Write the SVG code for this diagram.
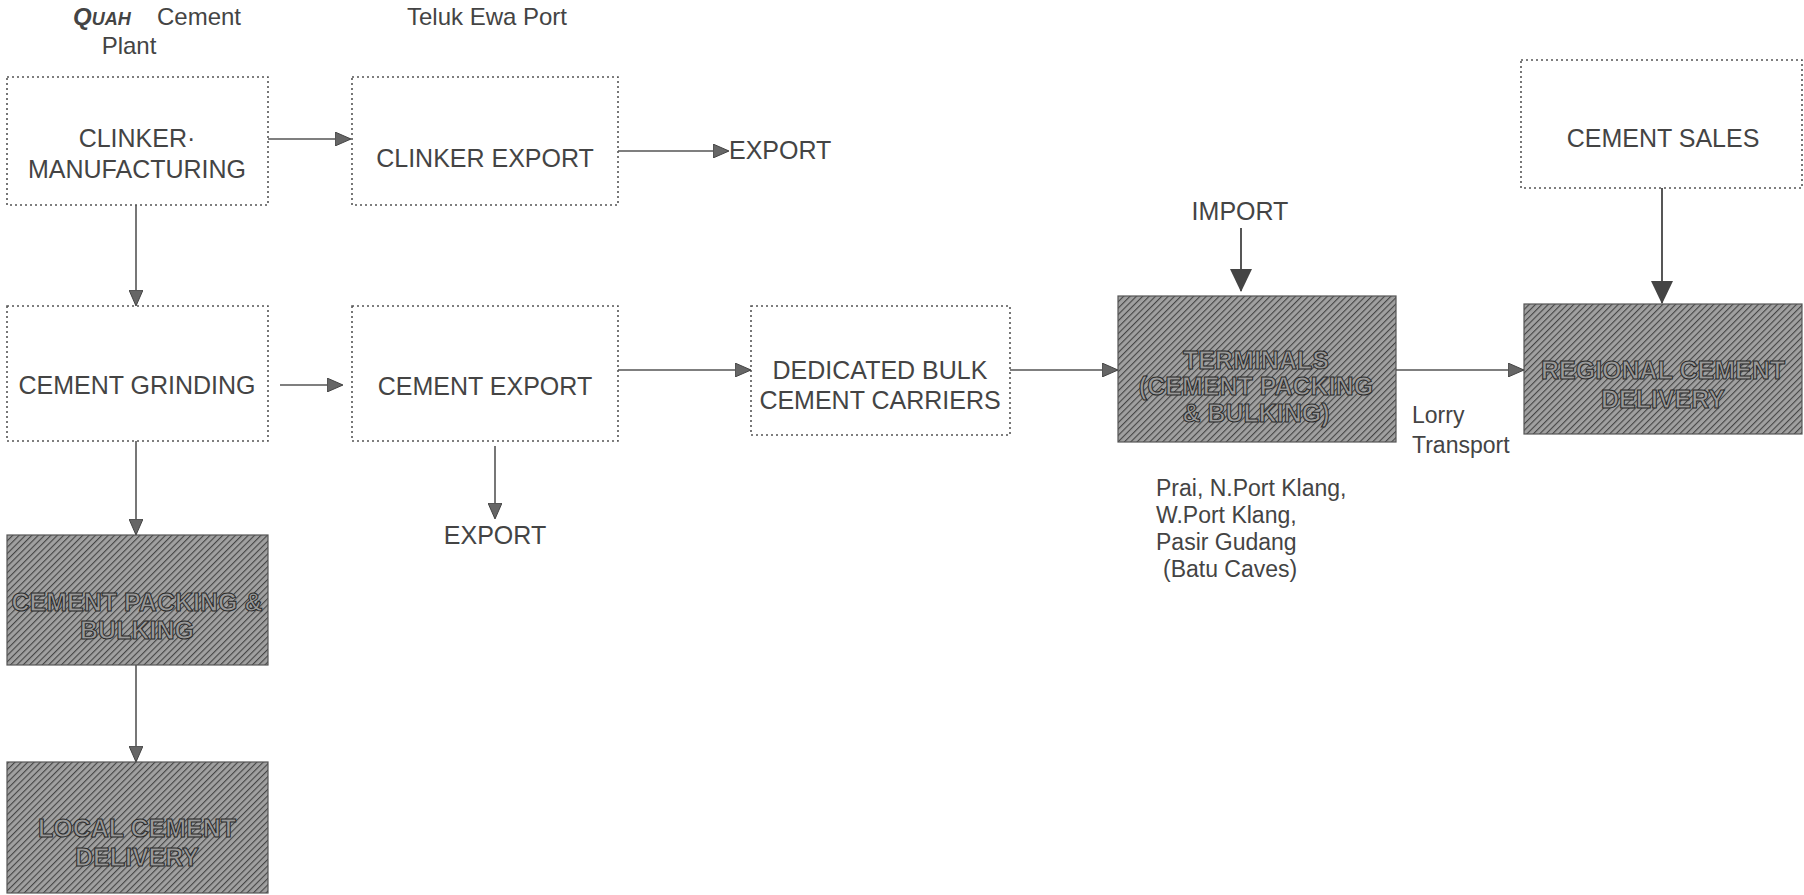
<svg xmlns="http://www.w3.org/2000/svg" width="1804" height="895" viewBox="0 0 1804 895">
<defs>
<pattern id="hatch" width="4.5" height="4.5" patternUnits="userSpaceOnUse" patternTransform="rotate(45)">
<rect width="4.5" height="4.5" fill="#a0a0a0"/>
<line x1="0" y1="0" x2="0" y2="4.5" stroke="#444" stroke-width="2.2"/>
</pattern>
<marker id="ah" markerWidth="16" markerHeight="14" refX="15" refY="7" orient="auto" markerUnits="userSpaceOnUse">
<path d="M0,0 L16,7 L0,14 Z" fill="#666" stroke="#444" stroke-width="1"/>
</marker>
<marker id="ahL" markerWidth="23" markerHeight="22" refX="22" refY="11" orient="auto" markerUnits="userSpaceOnUse">
<path d="M0,0 L23,11 L0,22 Z" fill="#444"/>
</marker>
</defs>
<style>
.dot{fill:#fff;stroke:#555;stroke-width:1.6;stroke-dasharray:2 3}
.hat{fill:url(#hatch);stroke:#555;stroke-width:1.2}
.t{font-family:"Liberation Sans",Arial,sans-serif;font-size:25px;fill:#444;text-anchor:middle}
.th{font-family:"Liberation Sans",Arial,sans-serif;font-size:25px;fill:#999;stroke:#2a2a2a;stroke-width:1;text-anchor:middle;font-weight:bold}
.s{font-family:"Liberation Sans",Arial,sans-serif;font-size:23px;fill:#444}
.h{font-family:"Liberation Sans",Arial,sans-serif;font-size:24px;fill:#444}
.c{stroke:#555;stroke-width:1.6;fill:none;marker-end:url(#ah)}
.cL{stroke:#444;stroke-width:1.8;fill:none;marker-end:url(#ahL)}
</style>
<rect width="1804" height="895" fill="#fff"/>

<g id="headers">
<text class="h" x="73" y="25" font-weight="bold" font-style="italic">Q<tspan font-size="18">UAH</tspan></text>
<text class="h" x="157" y="25">Cement</text>
<text class="h" x="129" y="54" text-anchor="middle">Plant</text>
<text class="h" x="487" y="25" text-anchor="middle">Teluk Ewa Port</text>
</g>

<g id="clinker-manufacturing">
<rect class="dot" x="7" y="77" width="261" height="128"/>
<text class="t" x="137" y="147">CLINKER·</text>
<text class="t" x="137" y="178">MANUFACTURING</text>
</g>
<g id="clinker-export">
<rect class="dot" x="352" y="77" width="266" height="128"/>
<text class="t" x="485" y="167">CLINKER EXPORT</text>
</g>
<g id="cement-grinding">
<rect class="dot" x="7" y="306" width="261" height="135"/>
<text class="t" x="137" y="394">CEMENT GRINDING</text>
</g>
<g id="cement-export">
<rect class="dot" x="352" y="306" width="266" height="135"/>
<text class="t" x="485" y="395">CEMENT EXPORT</text>
</g>
<g id="dedicated-bulk">
<rect class="dot" x="751" y="306" width="259" height="129"/>
<text class="t" x="880" y="379">DEDICATED BULK</text>
<text class="t" x="880" y="409">CEMENT CARRIERS</text>
</g>
<g id="terminals">
<rect class="hat" x="1118" y="296" width="278" height="146"/>
<text class="th" x="1256" y="369">TERMINALS</text>
<text class="th" x="1256" y="395">(CEMENT PACKING</text>
<text class="th" x="1256" y="422">&amp; BULKING)</text>
</g>
<g id="regional-delivery">
<rect class="hat" x="1524" y="304" width="278" height="130"/>
<text class="th" x="1663" y="379">REGIONAL CEMENT</text>
<text class="th" x="1663" y="408">DELIVERY</text>
</g>
<g id="cement-sales">
<rect class="dot" x="1521" y="60" width="281" height="128"/>
<text class="t" x="1663" y="147">CEMENT SALES</text>
</g>
<g id="cement-packing">
<rect class="hat" x="7" y="535" width="261" height="130"/>
<text class="th" x="137" y="611">CEMENT PACKING &amp;</text>
<text class="th" x="137" y="639">BULKING</text>
</g>
<g id="local-delivery">
<rect class="hat" x="7" y="762" width="261" height="131"/>
<text class="th" x="137" y="837">LOCAL CEMENT</text>
<text class="th" x="137" y="866">DELIVERY</text>
</g>

<g id="labels">
<text class="t" x="729" y="159" style="text-anchor:start">EXPORT</text>
<text class="t" x="495" y="544">EXPORT</text>
<text class="t" x="1240" y="220">IMPORT</text>
<text class="s" x="1412" y="423" font-size="26">Lorry</text>
<text class="s" x="1412" y="453" font-size="26">Transport</text>
<text class="s" x="1156" y="496">Prai, N.Port Klang,</text>
<text class="s" x="1156" y="523">W.Port Klang,</text>
<text class="s" x="1156" y="550">Pasir Gudang</text>
<text class="s" x="1163" y="577">(Batu Caves)</text>
</g>

<g id="connectors">
<line class="c" x1="268" y1="139" x2="350" y2="139"/>
<line class="c" x1="618" y1="151" x2="728" y2="151"/>
<line class="c" x1="136" y1="205" x2="136" y2="305"/>
<line class="c" x1="280" y1="385" x2="342" y2="385"/>
<line class="c" x1="618" y1="370" x2="750" y2="370"/>
<line class="c" x1="1010" y1="370" x2="1117" y2="370"/>
<line class="c" x1="1396" y1="370" x2="1523" y2="370"/>
<line class="c" x1="495" y1="446" x2="495" y2="518"/>
<line class="c" x1="136" y1="441" x2="136" y2="534"/>
<line class="c" x1="136" y1="665" x2="136" y2="761"/>
<line class="cL" x1="1241" y1="228" x2="1241" y2="291"/>
<line class="cL" x1="1662" y1="188" x2="1662" y2="303"/>
</g>
</svg>
